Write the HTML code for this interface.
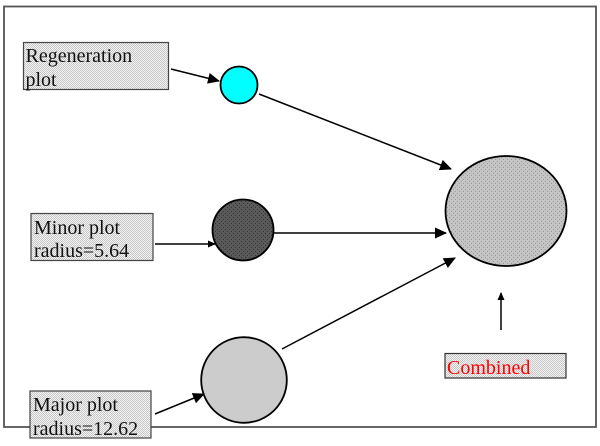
<!DOCTYPE html>
<html><head><meta charset="utf-8"><style>
html,body{margin:0;padding:0;background:#fff;}
svg{display:block;}
text{font-family:"Liberation Serif",serif;font-size:20px;fill:#111;}
</style></head><body>
<svg width="600" height="446" viewBox="0 0 600 446" xmlns="http://www.w3.org/2000/svg">
<defs>
<pattern id="lt" width="2" height="2" patternUnits="userSpaceOnUse">
<rect width="2" height="2" fill="#f4f4f4"/><rect width="1" height="1" fill="#c6c6c6"/><rect x="1" y="1" width="1" height="1" fill="#c6c6c6"/>
</pattern>
<pattern id="dk" width="4" height="4" patternUnits="userSpaceOnUse">
<rect width="4" height="4" fill="#5a5a5a"/><rect x="1" y="1" width="1" height="1" fill="#333"/><rect x="3" y="3" width="1" height="1" fill="#333"/>
</pattern>
<pattern id="md" width="4" height="4" patternUnits="userSpaceOnUse">
<rect width="4" height="4" fill="#c4c4c4"/><rect x="1" y="1" width="1" height="1" fill="#999"/><rect x="3" y="3" width="1" height="1" fill="#999"/>
</pattern>
<marker id="a" markerUnits="userSpaceOnUse" markerWidth="12" markerHeight="11" refX="11" refY="5.500" orient="auto"><path d="M0 0L12 5.500L0 11Z" fill="#000"/></marker>
<marker id="s" markerUnits="userSpaceOnUse" markerWidth="8" markerHeight="7" refX="7" refY="3.500" orient="auto"><path d="M0 0L8 3.500L0 7Z" fill="#000"/></marker>
</defs>
<rect x="4" y="6.500" width="592" height="420.500" fill="#fff" stroke="#555" stroke-width="1.800"/>
<rect x="23.500" y="42.500" width="145" height="47" fill="url(#lt)" stroke="#444" stroke-width="1.200"/>
<rect x="31" y="213.500" width="122" height="47" fill="url(#lt)" stroke="#444" stroke-width="1.200"/>
<rect x="30" y="391" width="121" height="47" fill="url(#lt)" stroke="#444" stroke-width="1.200"/>
<rect x="445" y="353.500" width="121" height="24.500" fill="url(#lt)" stroke="#333" stroke-width="1.200"/>
<circle cx="239" cy="85" r="18.500" fill="#00ffff" stroke="#000" stroke-width="1.800"/>
<circle cx="243" cy="230" r="30.500" fill="url(#dk)" stroke="#000" stroke-width="1.800"/>
<circle cx="244" cy="380" r="42.800" fill="#cccccc" stroke="#000" stroke-width="1.800"/>
<ellipse cx="506" cy="211" rx="60.500" ry="55" fill="url(#md)" stroke="#000" stroke-width="1.800"/>
<g stroke="#000" stroke-width="1.500" fill="none">
<line x1="171" y1="69" x2="219" y2="81" marker-end="url(#a)"/>
<line x1="259" y1="94" x2="451" y2="169" marker-end="url(#a)"/>
<line x1="155" y1="244" x2="215" y2="244" marker-end="url(#s)"/>
<line x1="274" y1="233" x2="446" y2="233" marker-end="url(#a)"/>
<line x1="282" y1="349" x2="455" y2="258" marker-end="url(#a)"/>
<line x1="155" y1="414" x2="204" y2="394" marker-end="url(#a)"/>
<line x1="501" y1="330" x2="501" y2="293" marker-end="url(#s)"/>
</g>
<text x="25.500" y="62">Regeneration</text>
<text x="25.500" y="86">plot</text>
<text x="34" y="234">Minor plot</text>
<text x="34" y="257">radius=5.64</text>
<text x="33" y="411">Major plot</text>
<text x="33" y="435">radius=12.62</text>
<text x="447" y="374" style="fill:#ff0000">Combined</text>
</svg>
</body></html>
